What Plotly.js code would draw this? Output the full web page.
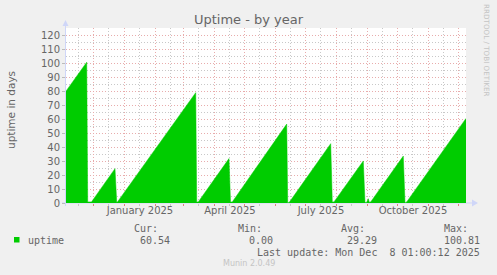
<!DOCTYPE html>
<html><head><meta charset="utf-8">
<script src="https://cdn.plot.ly/plotly-3.0.1.min.js"></script>
<style>html,body{margin:0;padding:0;background:#F0F0F0;}#chart{width:497px;height:275px;}</style>
</head><body><div id="chart"></div>
<script>
// ---- data ----
const dates = [
  '2024-11-03 01:00','2024-11-23 18:00','2024-11-24 18:00','2024-11-28 13:00',
  '2024-12-22 01:00','2024-12-23 18:00','2024-12-24 13:00',
  '2025-03-12 18:00','2025-03-13 18:00','2025-03-15 08:00',
  '2025-04-15 01:00','2025-04-16 13:00','2025-04-18 08:00',
  '2025-06-11 18:00','2025-06-12 18:00','2025-06-14 08:00',
  '2025-07-25 18:00','2025-07-27 08:00','2025-07-29 01:00',
  '2025-08-27 08:00','2025-08-29 01:00','2025-08-30 13:00',
  '2025-09-01 08:00','2025-09-02 08:00','2025-09-03 18:00',
  '2025-10-06 08:00','2025-10-08 01:00','2025-10-09 18:00',
  '2025-12-08 01:00'
];
const uptime = [
  80.1, 100.81, 0.8, 0.8,
  24.6, 0.5, 0.8,
  79.0, 0.8, 0.8,
  31.8, 0.8, 0.8,
  56.5, 0.0, 0.5,
  42.5, 0.8, 0.8,
  30.1, 0.3, 0.3,
  3.1, 0.5, 0.8,
  33.6, 0.0, 0.8,
  60.54
];
const monthLabelDates = ['2025-01-16','2025-04-16','2025-07-16','2025-10-16'];
const monthLabels = ['January 2025','April 2025','July 2025','October 2025'];
const yTicks = [0,10,20,30,40,50,60,70,80,90,100,110,120];
const statLabels = ['Cur:','Min:','Avg:','Max:'];
const statValues = [60.54, 0.00, 29.29, 100.81];
const seriesName = 'uptime';
const titleText = 'Uptime - by year';
const yTitle = 'uptime in days';
const lastUpdate = 'Last update: Mon Dec\u00a0 8 01:00:12 2025';
const versionText = 'Munin 2.0.49';
const watermark = 'RRDTOOL / TOBI OETIKER';
const xStart = '2024-11-03 01:00', xEnd = '2025-12-08 01:00';

// minor (grey) vertical grid positions: mid-month
const minorGridDates = [];
for (let i = 0; i < 13; i++) {
  const y = 2024 + Math.floor((10 + i) / 12), m = ((10 + i) % 12) + 1;
  minorGridDates.push(`${y}-${String(m).padStart(2,'0')}-16`);
}

// ---- geometry ----
const W = 497, H = 275, L = 66, R = 31, T = 28, B = 72;
const PW = W - L - R, PH = H - T - B;
const px = x => (x - L) / PW;
const py = y => (H - B - y) / PH;

const FONT = 'DejaVu Sans', MONO = 'DejaVu Sans Mono';
const TXT = '#666666', AXIS = '#CFD6F8';
const MGRID = '#e8acac', GRID = '#c8c8c8';

const trace = {
  x: dates, y: uptime, type: 'scatter', mode: 'lines',
  fill: 'tozeroy', fillcolor: '#00CC00',
  line: {color: '#00CC00', width: 0.5},
  hoverinfo: 'skip', showlegend: false, name: seriesName
};
// carriers for the overlay axes (draw nothing)
const labelCarrier = {
  x: monthLabelDates, y: monthLabelDates.map(() => null), xaxis: 'x2', yaxis: 'y',
  type: 'scatter', mode: 'markers', hoverinfo: 'skip', showlegend: false
};
const gridCarrier = {
  x: minorGridDates, y: minorGridDates.map(() => null), xaxis: 'x3', yaxis: 'y',
  type: 'scatter', mode: 'markers', hoverinfo: 'skip', showlegend: false
};

const annotations = [];
annotations.push({xref:'paper', yref:'paper', x: px(11), y: py(110), text: yTitle, textangle: -90,
  showarrow:false, font:{family:FONT, size:10.5, color:TXT}, xanchor:'center', yanchor:'middle'});
const labelRight = [159.5, 263.5, 367, 470];
const valueRight = [171.7, 275.3, 378.5, 482.3];
statLabels.forEach((s,i)=>{
  annotations.push({xref:'paper', yref:'paper', x:px(labelRight[i]), y:py(228), text:s, showarrow:false,
    xanchor:'right', yanchor:'middle', font:{family:MONO, size:10, color:TXT}});
  annotations.push({xref:'paper', yref:'paper', x:px(valueRight[i]), y:py(240), text:statValues[i].toFixed(2), showarrow:false,
    xanchor:'right', yanchor:'middle', font:{family:MONO, size:10, color:TXT}});
});
annotations.push({xref:'paper', yref:'paper', x:px(26), y:py(240), text:seriesName, showarrow:false,
  xanchor:'left', yanchor:'middle', font:{family:MONO, size:10, color:TXT}});
annotations.push({xref:'paper', yref:'paper', x:px(482.3), y:py(252), text:lastUpdate, showarrow:false,
  xanchor:'right', yanchor:'middle', font:{family:MONO, size:10, color:TXT}});
annotations.push({xref:'paper', yref:'paper', x:px(248.5), y:py(263.5), text:versionText, showarrow:false,
  xanchor:'center', yanchor:'middle', font:{family:FONT, size:8, color:'#c4c4c4'}});
annotations.push({xref:'paper', yref:'paper', x:px(486), y:py(50), text:watermark, showarrow:false, textangle:90,
  xanchor:'center', yanchor:'middle', font:{family:FONT, size:7.2, color:'#c4c4c4'}});

const shapes = [
  // legend swatch
  {type:'rect', xref:'paper', yref:'paper', x0:px(14), x1:px(19.5), y0:py(242.5), y1:py(237), fillcolor:'#00CC00', line:{width:0}},
  // x axis line + arrow
  {type:'line', xref:'paper', yref:'paper', x0:px(62), x1:px(472), y0:py(203), y1:py(203), line:{color:AXIS, width:1}, layer:'below'},
  {type:'path', xref:'paper', yref:'paper', path:`M ${px(472)} ${py(199.5)} L ${px(478)} ${py(203)} L ${px(472)} ${py(206.5)} Z`, fillcolor:AXIS, line:{width:0}},
  // y axis line + arrow
  {type:'line', xref:'paper', yref:'paper', x0:px(65.5), x1:px(65.5), y0:py(206), y1:py(25), line:{color:AXIS, width:1}},
  {type:'path', xref:'paper', yref:'paper', path:`M ${px(62.5)} ${py(26)} L ${px(65.5)} ${py(20)} L ${px(68.5)} ${py(26)} Z`, fillcolor:AXIS, line:{width:0}}
];

const layout = {
  width: W, height: H,
  margin: {l:L, r:R, t:T, b:B, pad:0},
  paper_bgcolor: '#F0F0F0', plot_bgcolor: '#FFFFFF',
  showlegend: false,
  title: {text: titleText, font:{family:FONT, size:13, color:TXT}, x:0.5, xanchor:'center', xref:'container',
          y: 1 - 19/H, yref:'container', yanchor:'middle'},
  xaxis: {
    type:'date', range:[xStart, xEnd], autorange:false,
    tickmode:'linear', tick0:'2024-12-01', dtick:'M1',
    showticklabels:false, ticks:'outside', ticklen:2, tickcolor:'#e08080', tickwidth:1,
    showgrid:true, gridcolor:MGRID, griddash:'1px,2px', gridwidth:1,
    zeroline:false, showline:false, fixedrange:true
  },
  xaxis2: {
    type:'date', range:[xStart, xEnd], autorange:false, overlaying:'x', anchor:'y', side:'bottom',
    tickmode:'array', tickvals:monthLabelDates, ticktext:monthLabels,
    ticks:'', showgrid:false, zeroline:false, showline:false,
    tickfont:{family:FONT, size:10, color:TXT}, fixedrange:true
  },
  xaxis3: {
    type:'date', range:[xStart, xEnd], autorange:false, overlaying:'x', anchor:'y', side:'bottom',
    tickmode:'array', tickvals:minorGridDates, showticklabels:false,
    ticks:'outside', ticklen:2, tickcolor:'#c8c8c8', tickwidth:1,
    showgrid:true, gridcolor:GRID, griddash:'1px,2px', gridwidth:1,
    zeroline:false, showline:false, fixedrange:true
  },
  yaxis: {
    range:[0, 125.3], autorange:false,
    tickmode:'array', tickvals:yTicks, ticktext:yTicks.map(String),
    tickfont:{family:FONT, size:10, color:TXT},
    ticks:'outside', ticklen:3, tickcolor:'#bbbbbb', tickwidth:1,
    showgrid:true, gridcolor:MGRID, griddash:'1px,2px', gridwidth:1,
    minor:{dtick:5, tick0:0, showgrid:true, gridcolor:GRID, griddash:'1px,2px', gridwidth:1},
    zeroline:false, showline:false, fixedrange:true
  },
  annotations: annotations,
  shapes: shapes
};

Plotly.newPlot('chart', [trace, labelCarrier, gridCarrier], layout, {staticPlot:true, displayModeBar:false});
</script></body></html>
